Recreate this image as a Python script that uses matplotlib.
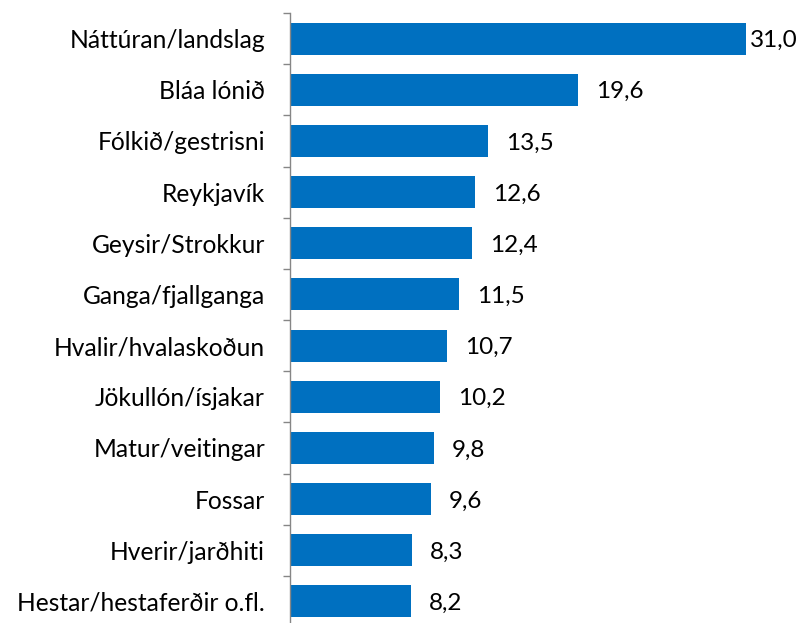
import matplotlib
matplotlib.use("Agg")
import matplotlib.pyplot as plt
import numpy as np

categories = ["Náttúran/landslag", "Bláa lónið", "Fólkið/gestrisni", "Reykjavík",
              "Geysir/Strokkur", "Ganga/fjallganga", "Hvalir/hvalaskoðun",
              "Jökullón/ísjakar", "Matur/veitingar", "Fossar", "Hverir/jarðhiti",
              "Hestar/hestaferðir o.fl."]
values = [31.0, 19.6, 13.5, 12.6, 12.4, 11.5, 10.7, 10.2, 9.8, 9.6, 8.3, 8.2]

plt.rcParams['font.family'] = ['Lato', 'DejaVu Sans']

fig = plt.figure(figsize=(7.99, 6.23), dpi=100)
# axis from y=13 px (top) to y=627 px (beyond bottom edge)
ax = fig.add_axes([290/799, -4/623, (770-290)/799, (627-13)/623])

y = np.arange(len(categories))
ax.barh(y, values, height=0.625, color="#0070C0")
ax.set_ylim(len(categories) - 0.5, -0.5)
ax.set_xlim(0, (770-290)/14.7)

vmax = max(values)
for yi, v in zip(y, values):
    off = 3 if v == vmax else 13  # points
    ax.annotate(f"{v:.1f}".replace(".", ","), xy=(v, yi + 0.04),
                xytext=(off, 0), textcoords="offset points",
                va="center", ha="left", fontsize=17.5, color="black")

ax.set_yticks(y)
ax.set_yticklabels(categories, fontsize=17.7)
ax.tick_params(axis="y", which="major", length=0, pad=18)
ax.set_yticks(np.arange(-0.5, len(categories), 1), minor=True)
ax.tick_params(axis="y", which="minor", length=5, color="#868686", width=1)
ax.set_xticks([])
for s in ["top", "right", "bottom"]:
    ax.spines[s].set_visible(False)
ax.spines["left"].set_color("#868686")
ax.spines["left"].set_linewidth(1)

fig.savefig("out.png", dpi=100)
